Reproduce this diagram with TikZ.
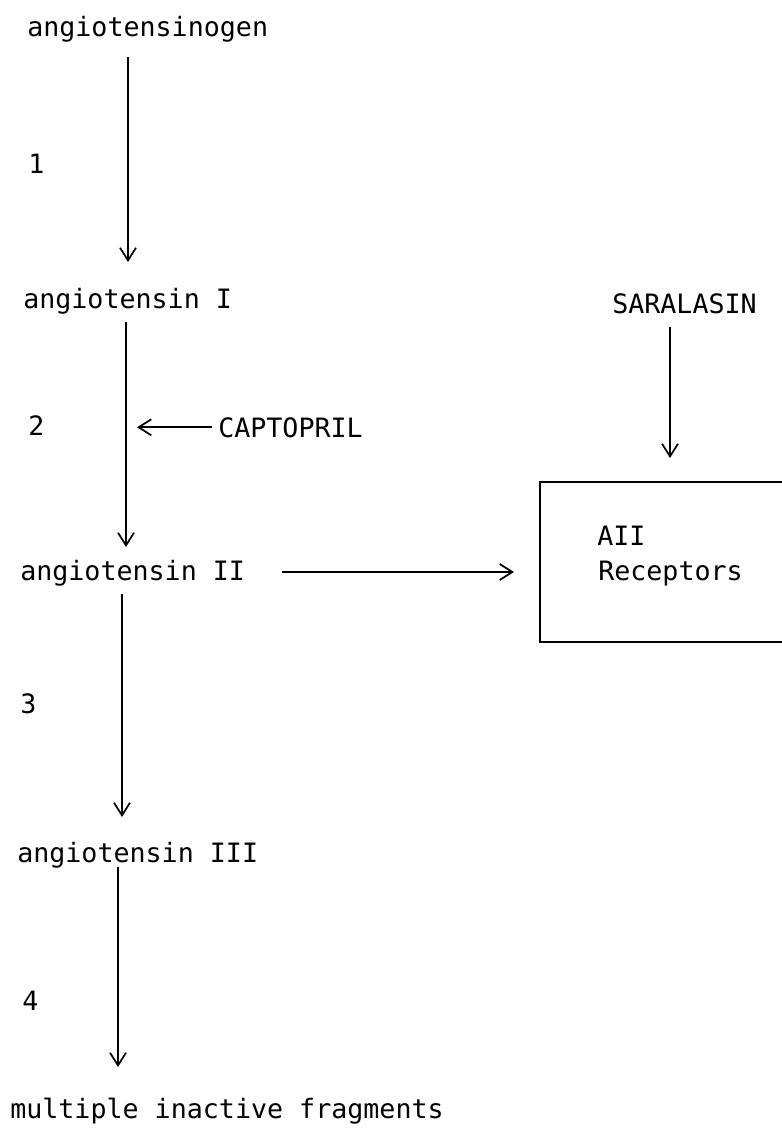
\documentclass[tikz,border=0pt]{standalone}
\usepackage{fontspec}
\setmonofont{DejaVu Sans Mono}
\usetikzlibrary{arrows.meta,calc}
\tikzset{
  lbl/.style={inner sep=0pt, anchor=base west, font=\ttfamily\fontsize{20}{24}\selectfont},
  arr/.style={line width=1.3pt, -{Straight Barb[length=9.5pt,width=12pt,line width=1.3pt]}},
  boxst/.style={draw, line width=1.4pt, inner sep=0pt, anchor=north west, minimum width=300*0.75pt, minimum height=160*0.75pt}
}
\begin{document}
\begin{tikzpicture}[x=0.75pt,y=-0.75pt]
\useasboundingbox (0,0) rectangle (782,1129);
\clip (0,0) rectangle (782,1129);
\node[lbl] (agen) at (27,36) {angiotensinogen};
\node[lbl] (n1) at (28,173) {1};
\node[lbl] (a1) at (23,308) {angiotensin I};
\node[lbl] (n2) at (28,435) {2};
\node[lbl] (capt) at (218,437) {CAPTOPRIL};
\node[lbl] (a2) at (20,580) {angiotensin II};
\node[lbl] (n3) at (20,713) {3};
\node[lbl] (a3) at (17,862) {angiotensin III};
\node[lbl] (n4) at (22,1010) {4};
\node[lbl] (frag) at (10,1118) {multiple inactive fragments};
\node[lbl] (sar) at (612,313) {SARALASIN};
\node[boxst] (box) at (539,481) {};
\node[lbl] (aii) at (597,545) {AII};
\node[lbl] (rec) at (598,580) {Receptors};
% arrows
\draw[arr] ($(agen.base west)+(101,21)$) -- ($(a1.base west)+(105,-46)$);
\draw[arr] ($(a1.base west)+(103,14)$) -- ($(a2.base west)+(106,-33)$);
\draw[arr] ($(capt.west)+(-6,0)$) -- ($(capt.west)+(-81,0)$);
\draw[arr] ($(a2.base west)+(262,-8)$) coordinate (s5) -- ($(box.west |- s5)+(-25,0)$);
\draw[arr] ($(sar.base west)+(58,14)$) -- ($(box.north west)+(131,-23)$);
\draw[arr] ($(a2.base west)+(102,14)$) -- ($(a3.base west)+(105,-45)$);
\draw[arr] ($(a3.base west)+(101,5)$) -- ($(frag.base west)+(108,-51)$);
\end{tikzpicture}
\end{document}
